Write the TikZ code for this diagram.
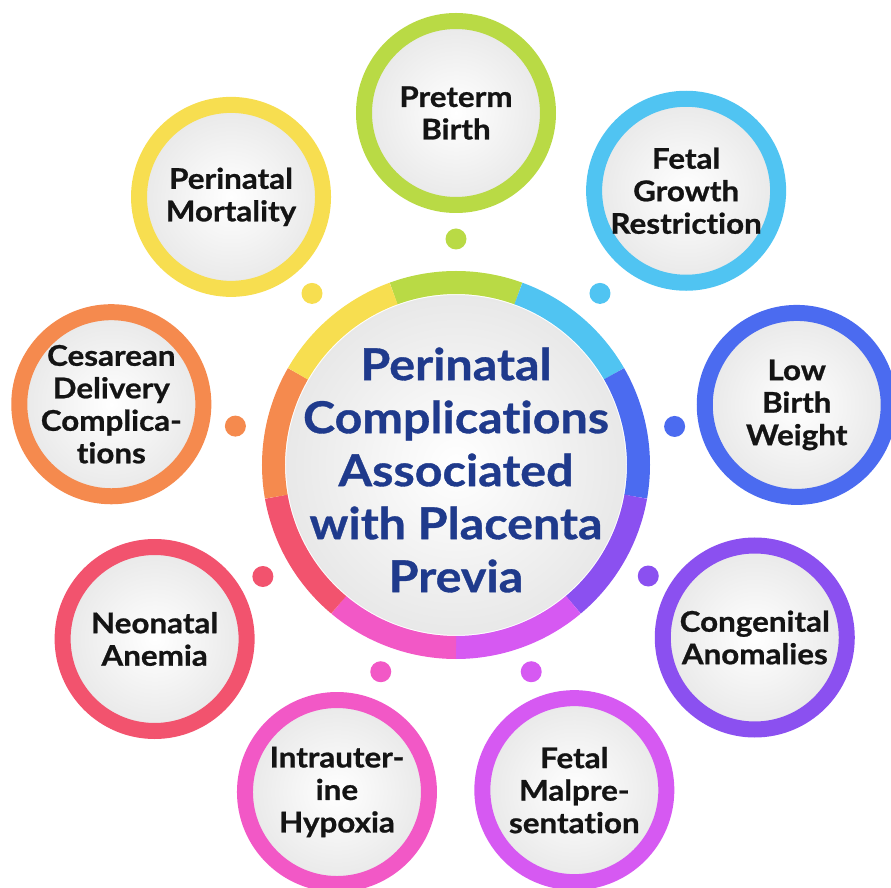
\documentclass[tikz,border=0pt]{standalone}
\usepackage{fontspec}
\setmainfont{Lato}[FakeStretch=1.1, Ligatures={NoCommon,NoRequired,NoContextual,NoRare},
                   RawFeature={-liga;-dlig;-clig}, BoldFeatures={FakeBold=0.8}]
\usetikzlibrary{positioning}

\definecolor{ringgreen}{HTML}{B9DA45}
\definecolor{ringsky}{HTML}{50C4F2}
\definecolor{ringblue}{HTML}{4B6BF0}
\definecolor{ringviolet}{HTML}{8B50F0}
\definecolor{ringorchid}{HTML}{D659F2}
\definecolor{ringpink}{HTML}{F258C6}
\definecolor{ringred}{HTML}{F2536E}
\definecolor{ringorange}{HTML}{F58A4E}
\definecolor{ringyellow}{HTML}{F7DE50}
\definecolor{hubnavy}{HTML}{1F3A8C}
\definecolor{labelblack}{HTML}{141414}

\begin{document}
\begin{tikzpicture}[x=1pt,y=1pt,
                    bubble/.style={circle, minimum size=184pt, inner sep=0pt, line width=16pt,
                                   inner color=white, outer color=black!9, align=center,
                                   font=\bfseries\fontsize{28.5}{32.5}\selectfont, text=labelblack},
                    hub/.style={circle, minimum size=342pt, inner sep=0pt, draw=white, line width=2pt,
                                inner color=white, outer color=black!9},
                    hubtext/.style={align=center, inner sep=0pt,
                                    font=\bfseries\fontsize{44}{53}\selectfont, text=hubnavy},
                    seg/.style={line width=23pt},
                    dot/.style={circle, minimum size=21pt, inner sep=0pt}]

\useasboundingbox (-456,-423) rectangle (435,465);

\node[hub] (hub) at (0,0) {};
\node[hubtext] (title) at ([yshift=-5pt]hub.center) {Perinatal\\Complications\\Associated\\with Placenta\\Previa};

\draw[seg, ringgreen]  (70:182.5)   arc[start angle=70,   end angle=110,  radius=182.5];
\draw[seg, ringsky]    (30:182.5)   arc[start angle=30,   end angle=70,   radius=182.5];
\draw[seg, ringblue]   (-10:182.5)  arc[start angle=-10,  end angle=30,   radius=182.5];
\draw[seg, ringviolet] (-50:182.5)  arc[start angle=-50,  end angle=-10,  radius=182.5];
\draw[seg, ringorchid] (-90:182.5)  arc[start angle=-90,  end angle=-50,  radius=182.5];
\draw[seg, ringpink]   (-130:182.5) arc[start angle=-130, end angle=-90,  radius=182.5];
\draw[seg, ringred]    (-170:182.5) arc[start angle=-170, end angle=-130, radius=182.5];
\draw[seg, ringorange] (150:182.5)  arc[start angle=150,  end angle=190,  radius=182.5];
\draw[seg, ringyellow] (110:182.5)  arc[start angle=110,  end angle=150,  radius=182.5];

\node[bubble, draw=ringgreen]  (preterm)   at (90:352)   {Preterm\\Birth};
\node[bubble, draw=ringsky]    (growth)    at (50:358)   {Fetal\\Growth\\Restriction};
\node[bubble, draw=ringblue]   (lowweight) at (10:346)   {Low\\Birth\\Weight};
\node[bubble, draw=ringviolet] (anomalies) at (-30:345)  {Congenital\\Anomalies};
\node[bubble, draw=ringorchid] (malpres)   at (-70:346)  {Fetal\\Malpre-\\sentation};
\node[bubble, draw=ringpink]   (hypoxia)   at (-110:348) {Intrauter-\\ine\\Hypoxia};
\node[bubble, draw=ringred]    (anemia)    at (-150:348) {Neonatal\\Anemia};
\node[bubble, draw=ringorange] (cesarean)  at (170:350)  {Cesarean\\Delivery\\Complica-\\tions};
\node[bubble, draw=ringyellow] (mortality) at (130:350)  {Perinatal\\Mortality};

\node[dot, fill=ringgreen]  (dpreterm)   at (90:226)   {};
\node[dot, fill=ringsky]    (dgrowth)    at (50:224)   {};
\node[dot, fill=ringblue]   (dlowweight) at (10:222)   {};
\node[dot, fill=ringviolet] (danomalies) at (-30:222)  {};
\node[dot, fill=ringorchid] (dmalpres)   at (-70:220)  {};
\node[dot, fill=ringpink]   (dhypoxia)   at (-110:220) {};
\node[dot, fill=ringred]    (danemia)    at (-150:223) {};
\node[dot, fill=ringorange] (dcesarean)  at (170:224)  {};
\node[dot, fill=ringyellow] (dmortality) at (130:224)  {};

\end{tikzpicture}
\end{document}
